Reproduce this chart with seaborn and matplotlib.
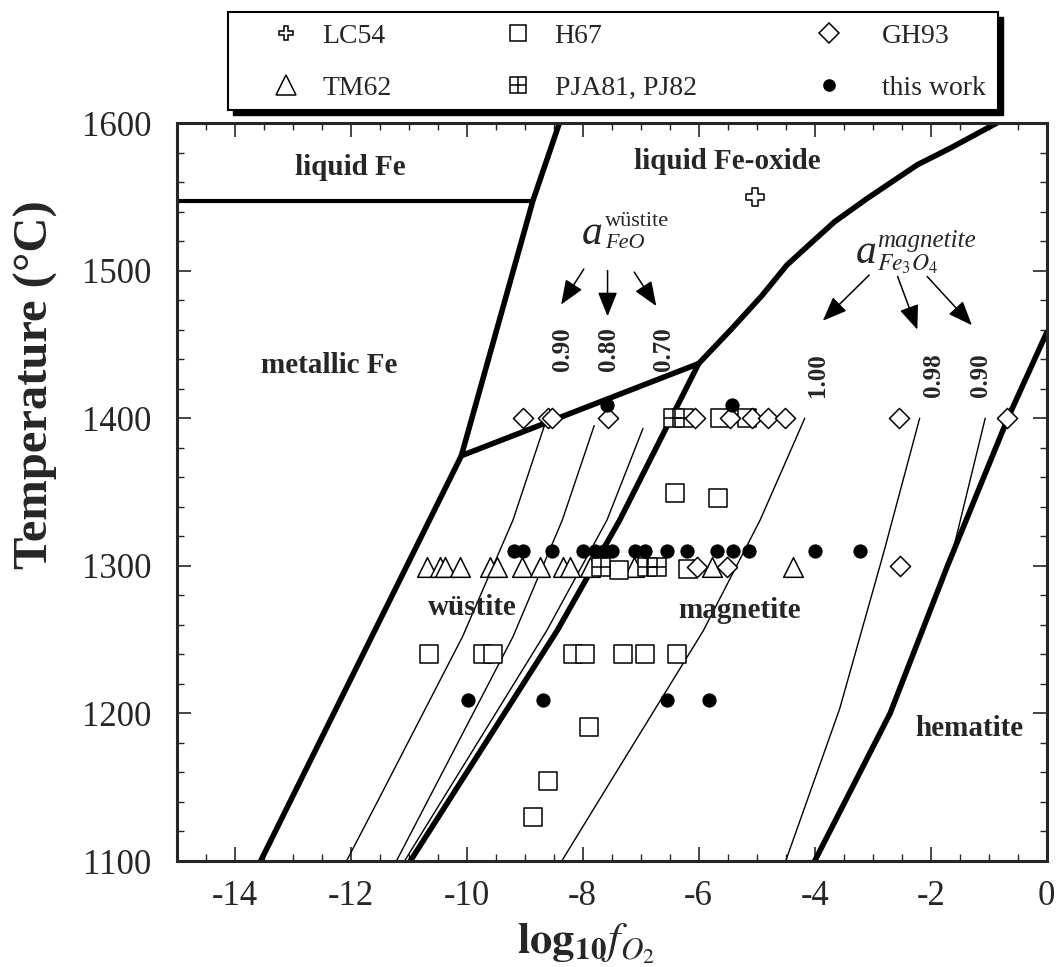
import numpy as np
import matplotlib
matplotlib.use("Agg")
import matplotlib.pyplot as plt
from matplotlib.lines import Line2D
from matplotlib.patches import Rectangle
from matplotlib.ticker import MultipleLocator
import seaborn as sns

# ---- data (log10 fO2, temperature in degC) ----
# phase boundaries (thick lines)
fe_bound_x = [-13.55, -10.09, -8.86, -8.40]
fe_bound_t = [1100, 1374.6, 1547, 1600]
wl_bound_x = [-10.09, -6.0]
wl_bound_t = [1374.6, 1437]
wm_bound_x = [-10.97, -8.44, -7.36, -6.0]
wm_bound_t = [1100, 1256, 1331, 1437]
ml_bound_x = [-6.0, -5.43, -4.91, -4.48, -4.11, -3.66, -3.09, -2.23, -1.66, -0.86]
ml_bound_t = [1437, 1460.6, 1483, 1503.7, 1517, 1533, 1549, 1571.7, 1583, 1600]
mh_bound_x = [-4.0, -2.7, -1.71, -0.67, 0.0]
mh_bound_t = [1100, 1200, 1300, 1400, 1458]
liqfe_x = [-15.0, -8.86]
liqfe_t = [1547, 1547]

# iso-activity lines (thin)
aw90_x = [-12.07, -11.5, -10.07, -9.2, -8.65]
aw90_t = [1100, 1143, 1252, 1331, 1396]
aw80_x = [-11.21, -9.2, -8.35, -7.8]
aw80_t = [1100, 1252, 1331, 1395]
aw70_x = [-11.07, -8.62, -7.58, -6.96]
aw70_t = [1100, 1256, 1331, 1393]
am100_x = [-8.36, -7.33, -5.92, -4.94, -4.17]
am100_t = [1100, 1166, 1256, 1331, 1400]
am98_x = [-4.5, -3.57, -2.81, -2.19]
am98_t = [1100, 1203, 1309, 1400]
am90_x = [-1.68, -1.06]
am90_t = [1300, 1400]

# experimental data
lc54_x = [-5.02]
lc54_t = [1550]

h67_x = [-5.63, -5.17, -6.41, -5.67, -7.38, -6.18,
         -10.64, -9.71, -9.54, -8.16, -7.96, -7.30, -6.92, -6.38,
         -7.89, -8.59, -8.85]
h67_t = [1400, 1400, 1349, 1346, 1297, 1298,
         1240, 1240, 1240, 1240, 1240, 1240, 1240, 1240,
         1191, 1154, 1130]

gh93_x = [-9.02, -8.60, -8.52, -7.56, -6.06, -5.46, -5.08, -4.80, -4.51, -2.55, -0.68,
          -6.03, -5.51, -2.53]
gh93_t = [1400, 1400, 1400, 1400, 1400, 1400, 1400, 1400, 1400, 1400, 1400,
          1299, 1299, 1300]

tm62_x = [-10.69, -10.46, -10.37, -10.11, -9.60, -9.48, -9.05, -8.73, -8.33, -8.22,
          -7.87, -7.12, -5.77, -4.37]
tm62_t = [1299] * 14

pja_x = [-6.44, -6.26, -7.69, -6.89, -6.71]
pja_t = [1400, 1400, 1299, 1299, 1299]

tw_x = [-7.58, -5.43,
        -9.19, -9.02, -8.53, -7.99, -7.78, -7.64, -7.49, -7.10, -6.93, -6.54, -6.20,
        -5.68, -5.40, -5.13, -3.99, -3.22,
        -9.97, -8.68, -6.55, -5.83]
tw_t = [1409, 1409,
        1310, 1310, 1310, 1310, 1310, 1310, 1310, 1310, 1310, 1310, 1310,
        1310, 1310, 1310, 1310, 1310,
        1209, 1209, 1209, 1209]

x_ticks = [-14, -12, -10, -8, -6, -4, -2, 0]
y_ticks = [1100, 1200, 1300, 1400, 1500, 1600]

sns.set_style("ticks")
plt.rcParams["font.family"] = ["Liberation Serif", "DejaVu Serif"]
plt.rcParams["mathtext.fontset"] = "stix"
plt.rcParams["axes.unicode_minus"] = False

fig = plt.figure(figsize=(10.59, 9.67), dpi=100)
ax = fig.add_axes([0.1667, 0.1096, 0.8217, 0.7632])

# boundaries
thick = dict(color="black", linewidth=4, sort=False, estimator=None, ax=ax, zorder=2)
for bx, bt in [(fe_bound_x, fe_bound_t), (wl_bound_x, wl_bound_t),
               (wm_bound_x, wm_bound_t), (ml_bound_x, ml_bound_t),
               (mh_bound_x, mh_bound_t)]:
    sns.lineplot(x=bx, y=bt, **thick)
sns.lineplot(x=liqfe_x, y=liqfe_t, color="black", linewidth=3, sort=False,
             estimator=None, ax=ax, zorder=2)

thin = dict(color="black", linewidth=1.0, sort=False, estimator=None, ax=ax, zorder=2)
for bx, bt in [(aw90_x, aw90_t), (aw80_x, aw80_t), (aw70_x, aw70_t),
               (am100_x, am100_t), (am98_x, am98_t), (am90_x, am90_t)]:
    sns.lineplot(x=bx, y=bt, **thin)

# data points
open_kw = dict(color="white", edgecolor="black", linewidth=1.1, ax=ax, legend=False, zorder=3)
sns.scatterplot(x=tm62_x, y=tm62_t, marker="^", s=200, **open_kw)
sns.scatterplot(x=h67_x, y=h67_t, marker="s", s=175, **open_kw)
sns.scatterplot(x=pja_x, y=pja_t, marker="s", s=175, **open_kw)
sns.scatterplot(x=pja_x, y=pja_t, marker="+", s=175, color="black", linewidth=1.1,
                ax=ax, legend=False, zorder=3)
sns.scatterplot(x=gh93_x, y=gh93_t, marker="D", s=105, **open_kw)
sns.scatterplot(x=lc54_x, y=lc54_t, marker="P", s=150, **open_kw)
sns.scatterplot(x=tw_x, y=tw_t, marker="o", s=90, color="black", edgecolor="black",
                ax=ax, legend=False, zorder=4)

# field labels
field_kw = dict(fontsize=21, fontweight="bold", ha="center", va="center", zorder=5)
ax.text(-12.01, 1570, "liquid Fe", **field_kw)
ax.text(-5.51, 1574, "liquid Fe-oxide", **field_kw)
ax.text(-12.36, 1436, "metallic Fe", **field_kw)
ax.text(-9.91, 1272, "wüstite", **field_kw)
ax.text(-5.29, 1270, "magnetite", **field_kw)
ax.text(-1.33, 1190, "hematite", **field_kw)

# activity values
val_kw = dict(fontsize=18, fontweight="bold", ha="center", va="center", rotation=90, zorder=5)
for vx, vt, vs in [(-8.34, 1447, "0.90"), (-7.56, 1447, "0.80"), (-6.60, 1447, "0.70"),
                   (-3.95, 1429, "1.00"), (-1.95, 1429, "0.98"), (-1.15, 1429, "0.90")]:
    ax.text(vx, vt, vs, **val_kw)

# activity symbols
ax.text(-8.01, 1518, "a", fontsize=30, style="italic", ha="left", va="baseline")
ax.text(-7.62, 1530, "wüstite", fontsize=16, ha="left", va="baseline")
ax.text(-7.62, 1515, "FeO", fontsize=16, style="italic", ha="left", va="baseline")
ax.text(-3.30, 1505, "a", fontsize=30, style="italic", ha="left", va="baseline")
ax.text(-2.92, 1516, "magnetite", fontsize=18, style="italic", ha="left", va="baseline")
ax.text(-2.92, 1500, r"$\mathit{Fe}_{3}\mathit{O}_{4}$", fontsize=17, ha="left", va="baseline")

arrow_kw = dict(arrowstyle="-|>,head_length=0.5,head_width=0.2", color="black",
                lw=1.1, mutation_scale=30, shrinkA=0, shrinkB=0)
for tail, tip in [((-7.98, 1501), (-8.37, 1477)), ((-7.57, 1500), (-7.57, 1469)),
                  ((-7.11, 1499), (-6.73, 1476)), ((-3.06, 1497), (-3.86, 1466)),
                  ((-2.57, 1496), (-2.23, 1460)), ((-2.06, 1496), (-1.29, 1463))]:
    ax.annotate("", xy=tip, xytext=tail, arrowprops=arrow_kw)

# axes
ax.set_xlim(-15, 0)
ax.set_ylim(1100, 1600)
ax.set_xticks(x_ticks)
ax.set_xticklabels([str(v) for v in x_ticks])
ax.set_yticks(y_ticks)
ax.xaxis.set_minor_locator(MultipleLocator(0.5))
ax.yaxis.set_minor_locator(MultipleLocator(20))
ax.tick_params(which="both", direction="in", top=True, right=True, labelsize=25)
ax.tick_params(which="major", length=10, width=1.2)
ax.tick_params(which="minor", length=5, width=1.0)
ax.tick_params(axis="y", pad=18)
ax.tick_params(axis="x", pad=14)
for sp in ax.spines.values():
    sp.set_linewidth(2.2)

ax.set_ylabel("Temperature (°C)", fontsize=35, fontweight="bold")
ax.yaxis.set_label_coords(-0.136, 0.645)
ax.set_xlabel(r"$\mathbf{log_{10}}\mathit{f}_{\mathit{O}_{2}}$", fontsize=32)
ax.xaxis.set_label_coords(0.47, -0.083)

# legend box with drop shadow
bx0, by0, bw, bh = 228 / 1059, 1 - 110 / 967, 770 / 1059, 98 / 967
fig.add_artist(Rectangle((bx0 + 5 / 1059, by0 - 5 / 967), bw, bh, transform=fig.transFigure,
                         facecolor="black", edgecolor="black", zorder=1))
fig.add_artist(Rectangle((bx0, by0), bw, bh, transform=fig.transFigure,
                         facecolor="white", edgecolor="black", linewidth=1.5, zorder=2))

def mk(marker, ms, fc="white", mew=1.1):
    return Line2D([], [], ls="", marker=marker, ms=ms, mfc=fc, mec="black", mew=mew)

grid_handle = (mk("s", 12), Line2D([], [], ls="", marker="+", ms=12, color="black", mew=1.1))
columns = [
    (272 / 1059, [mk("P", 10), mk("^", 14)], ["LC54", "TM62"], 0.82),
    (504 / 1059, [mk("s", 12), grid_handle], ["H67", "PJA81, PJ82"], 0.82),
    (815 / 1059, [mk("D", 10), mk("o", 8, fc="black")], ["GH93", "this work"], 1.4),
]
for lx, hands, labs, tpad in columns:
    fig.legend(hands, labs, loc="center left", bbox_to_anchor=(lx, 1 - 62 / 967),
               frameon=False, fontsize=20, handlelength=1.0, handletextpad=tpad,
               borderpad=0, borderaxespad=0, labelspacing=0.95)

fig.savefig("out.png", dpi=100)
